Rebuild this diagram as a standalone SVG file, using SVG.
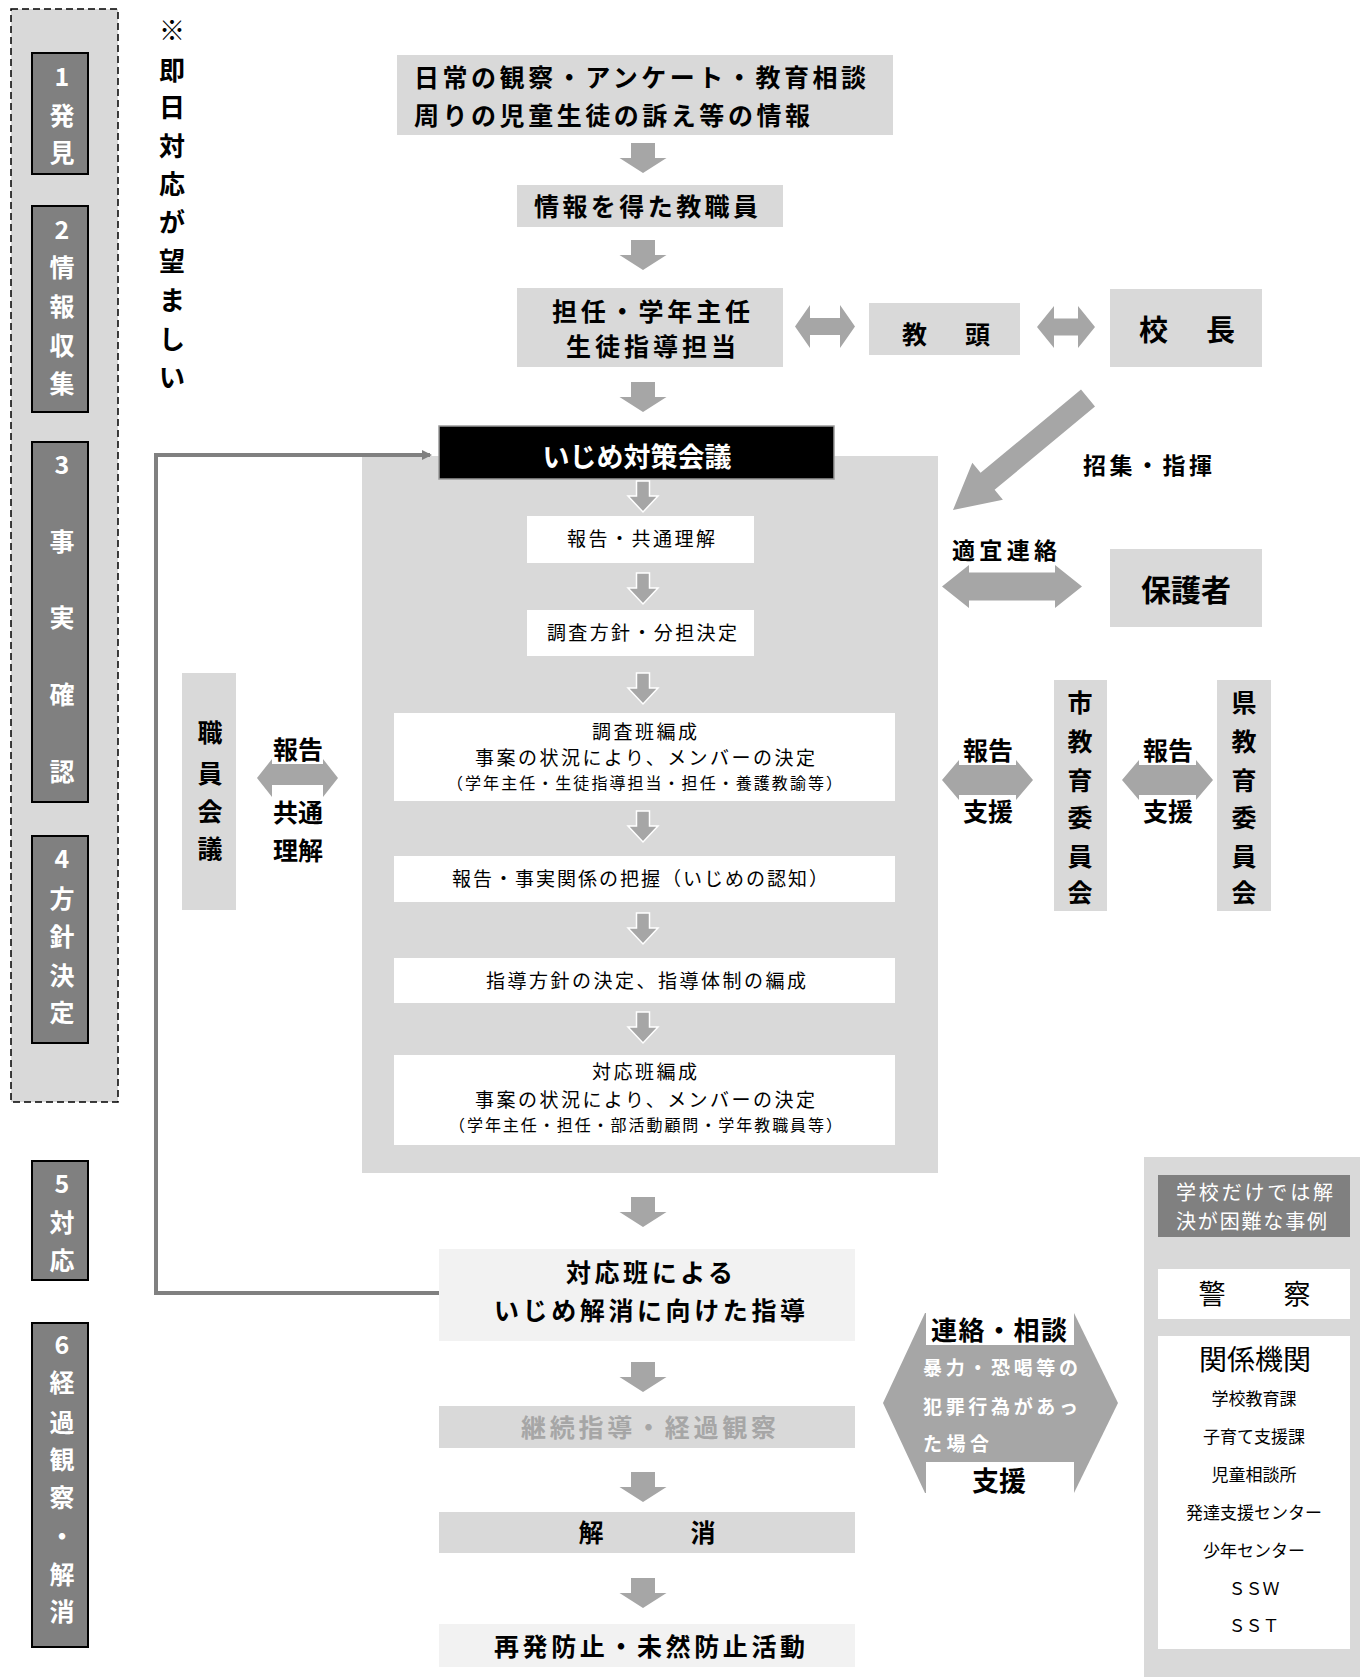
<svg xmlns="http://www.w3.org/2000/svg" xmlns:xlink="http://www.w3.org/1999/xlink" width="1367" height="1677" viewBox="0 0 1367 1677">
<style>
.t{font-family:"Noto Sans CJK JP","Noto Sans",sans-serif;dominant-baseline:central}
.b{font-weight:bold}
.c{text-anchor:middle}
.g{fill:#d9d9d9}
.lg{fill:#f2f2f2}
.w{fill:#ffffff}
.stage{fill:#808080;stroke:#000;stroke-width:2}
.st{fill:#fff;font-size:25px;font-weight:bold}
.arr{fill:#a6a6a6}
.iarr{fill:#a6a6a6;stroke:#fff;stroke-width:1.5}
.m{font-size:25px}
.s{font-size:19px}
.xs{font-size:16px}
</style>
<defs>
<path id="darr" d="M-12,0 H12 V15 H23.5 L0,30 L-23.5,15 H-12 Z"/>
<path id="iarr" d="M-6.5,0 H6.5 V15 H15 L0,31 L-15,15 H-6.5 Z"/>
<marker id="ah" markerWidth="10" markerHeight="10" refX="8" refY="5" orient="auto" markerUnits="userSpaceOnUse">
<path d="M0,0 L10,5 L0,10 Z" fill="#808080"/>
</marker>
</defs>
<rect width="1367" height="1677" fill="#fff"/>

<!-- left stage panel -->
<g id="stages">
<rect x="11" y="9" width="107" height="1093" class="g" stroke="#000" stroke-width="1.5" stroke-dasharray="7,4"/>
<g id="stage1"><rect x="32" y="53" width="56" height="121" class="stage"/>
<text class="t st c" x="62" y="75">1</text><text class="t st c" x="62" y="114">発</text><text class="t st c" x="62" y="151">見</text></g>
<g id="stage2"><rect x="32" y="206" width="56" height="206" class="stage"/>
<text class="t st c" x="62" y="228">2</text><text class="t st c" x="62" y="266">情</text><text class="t st c" x="62" y="305">報</text><text class="t st c" x="62" y="344">収</text><text class="t st c" x="62" y="382">集</text></g>
<g id="stage3"><rect x="32" y="442" width="56" height="360" class="stage"/>
<text class="t st c" x="62" y="463">3</text><text class="t st c" x="62" y="540">事</text><text class="t st c" x="62" y="616">実</text><text class="t st c" x="62" y="693">確</text><text class="t st c" x="62" y="770">認</text></g>
<g id="stage4"><rect x="32" y="836" width="56" height="207" class="stage"/>
<text class="t st c" x="62" y="857">4</text><text class="t st c" x="62" y="897">方</text><text class="t st c" x="62" y="935">針</text><text class="t st c" x="62" y="974">決</text><text class="t st c" x="62" y="1011">定</text></g>
<g id="stage5"><rect x="32" y="1161" width="56" height="119" class="stage"/>
<text class="t st c" x="62" y="1182">5</text><text class="t st c" x="62" y="1221">対</text><text class="t st c" x="62" y="1259">応</text></g>
<g id="stage6"><rect x="32" y="1323" width="56" height="324" class="stage"/>
<text class="t st c" x="62" y="1343">6</text><text class="t st c" x="62" y="1381">経</text><text class="t st c" x="62" y="1421">過</text><text class="t st c" x="62" y="1458">観</text><text class="t st c" x="62" y="1496">察</text><text class="t st c" x="62" y="1535">・</text><text class="t st c" x="62" y="1573">解</text><text class="t st c" x="62" y="1610">消</text></g>
</g>

<g id="note" class="t b c" font-size="26" fill="#000">
<text x="172" y="28">※</text><text x="172" y="68">即</text><text x="172" y="105">日</text><text x="172" y="144">対</text><text x="172" y="182">応</text><text x="172" y="220">が</text><text x="172" y="259">望</text><text x="172" y="298">ま</text><text x="172" y="337">し</text><text x="172" y="375">い</text>
</g>

<!-- main panel background -->
<rect id="panel" x="362" y="456" width="576" height="717" class="g"/>

<g id="connectors">
<use href="#darr" x="643" y="143" class="arr"/>
<use href="#darr" x="643" y="240" class="arr"/>
<use href="#darr" x="643" y="382" class="arr"/>
<use href="#darr" x="643" y="1197" class="arr"/>
<use href="#darr" x="643" y="1362" class="arr"/>
<use href="#darr" x="643" y="1472" class="arr"/>
<use href="#darr" x="643" y="1578" class="arr"/>
<use href="#iarr" x="643" y="481" class="iarr"/>
<use href="#iarr" x="643" y="573" class="iarr"/>
<use href="#iarr" x="643" y="673" class="iarr"/>
<use href="#iarr" x="643" y="811" class="iarr"/>
<use href="#iarr" x="643" y="913" class="iarr"/>
<use href="#iarr" x="643" y="1012" class="iarr"/>
<path class="arr" d="M795,326.5 L810,305 V318 H840 V305 L855,326.5 L840,348 V335 H810 V348 Z"/>
<path class="arr" d="M1037,327 L1054,306 V318.5 H1078 V306 L1095,327 L1078,348 V335.5 H1054 V348 Z"/>
<polygon class="arr" points="1081,389.5 980.6,472.8 972.3,462.8 953,510 1002.9,499.8 994.6,489.8 1095,406.5"/>
<path class="arr" d="M942,586.5 L969,565 V572.5 H1055 V565 L1082,586.5 L1055,608 V600.5 H969 V608 Z"/>
<path class="arr" d="M257,778 L272,759 V763 H323 V759 L338,778 L323,797 V793 H272 V797 Z"/>
<path class="arr" d="M942,780 L959,760 V764 H1016 V760 L1033,780 L1016,800 V796 H959 V800 Z"/>
<path class="arr" d="M1122,780 L1139,760 V764 H1196 V760 L1213,780 L1196,800 V796 H1139 V800 Z"/>
<polygon class="arr" points="883,1403 925,1313 1074,1313 1118,1403 1074,1493 925,1493"/>
<path d="M439,1293 H156 V455 H430" fill="none" stroke="#808080" stroke-width="4" marker-end="url(#ah)"/>
</g>

<!-- connector labels -->
<g id="labels" class="t b" fill="#000">
<text x="1083" y="464" font-size="23" textLength="129" lengthAdjust="spacing">招集・指揮</text>
<text x="952" y="549" font-size="23" textLength="105" lengthAdjust="spacing">適宜連絡</text>
<rect x="272" y="733" width="51" height="31" class="w"/>
<text class="c" x="298" y="748" font-size="25">報告</text>
<rect x="272" y="785" width="51" height="42" class="w"/>
<text class="c" x="298" y="811" font-size="25">共通</text>
<text class="c" x="298" y="849" font-size="25">理解</text>
<rect x="959" y="734" width="57" height="31" class="w"/>
<text class="c" x="988" y="749" font-size="25">報告</text>
<rect x="959" y="795" width="57" height="32" class="w"/>
<text class="c" x="988" y="810" font-size="25">支援</text>
<rect x="1139" y="734" width="57" height="31" class="w"/>
<text class="c" x="1168" y="749" font-size="25">報告</text>
<rect x="1139" y="795" width="57" height="32" class="w"/>
<text class="c" x="1168" y="810" font-size="25">支援</text>
<rect x="926" y="1313" width="148" height="32" class="w"/>
<text x="931" y="1328" font-size="26" textLength="136" lengthAdjust="spacing">連絡・相談</text>
<text x="923" y="1366" font-size="19" fill="#fff" textLength="155" lengthAdjust="spacing">暴力・恐喝等の</text>
<text x="923" y="1405" font-size="19" fill="#fff" textLength="155" lengthAdjust="spacing">犯罪行為があっ</text>
<text x="923" y="1442" font-size="19" fill="#fff" textLength="66" lengthAdjust="spacing">た場合</text>
<rect x="926" y="1462" width="148" height="31" class="w"/>
<text class="c" x="999" y="1479" font-size="27">支援</text>
</g>

<g id="node-top"><rect x="397" y="55" width="496" height="80" class="g"/>
<text class="t b m" x="414" y="76" textLength="452" lengthAdjust="spacing">日常の観察・アンケート・教育相談</text>
<text class="t b m" x="414" y="114" textLength="396" lengthAdjust="spacing">周りの児童生徒の訴え等の情報</text></g>

<g id="node-staff"><rect x="517" y="185" width="266" height="42" class="g"/>
<text class="t b m" x="534" y="205" textLength="224" lengthAdjust="spacing">情報を得た教職員</text></g>

<g id="node-tannin"><rect x="517" y="288" width="266" height="79" class="g"/>
<text class="t b m" x="552" y="310" textLength="198" lengthAdjust="spacing">担任・学年主任</text>
<text class="t b m" x="566" y="345" textLength="170" lengthAdjust="spacing">生徒指導担当</text></g>

<g id="node-kyoto"><rect x="869" y="303" width="151" height="52" class="g"/>
<text class="t b m" x="902" y="333" textLength="88" lengthAdjust="spacing">教　頭</text></g>

<g id="node-kocho"><rect x="1110" y="289" width="152" height="78" class="g"/>
<text class="t b" font-size="29" x="1139" y="328" textLength="96" lengthAdjust="spacing">校　長</text></g>

<g id="node-hogosha"><rect x="1110" y="549" width="152" height="78" class="g"/>
<text class="t b c" font-size="30" x="1186" y="588">保護者</text></g>

<g id="node-kaigi"><rect x="439" y="426" width="395" height="53" fill="#000" stroke="#9a9a9a" stroke-width="1.5"/>
<text class="t b c" font-size="27" x="637" y="455" fill="#fff">いじめ対策会議</text></g>

<g id="node-n1"><rect x="527" y="516" width="227" height="47" class="w"/>
<text class="t s" x="567" y="537" textLength="148" lengthAdjust="spacing">報告・共通理解</text></g>
<g id="node-n2"><rect x="527" y="610" width="227" height="46" class="w"/>
<text class="t s" x="547" y="631" textLength="190" lengthAdjust="spacing">調査方針・分担決定</text></g>
<g id="node-n3"><rect x="394" y="713" width="501" height="88" class="w"/>
<text class="t s" x="592" y="730" textLength="105" lengthAdjust="spacing">調査班編成</text>
<text class="t s" x="475" y="756" textLength="340" lengthAdjust="spacing">事案の状況により、メンバーの決定</text>
<text class="t xs" x="447" y="782" textLength="395" lengthAdjust="spacing">（学年主任・生徒指導担当・担任・養護教諭等）</text></g>
<g id="node-n4"><rect x="394" y="856" width="501" height="46" class="w"/>
<text class="t s" x="452" y="877" textLength="376" lengthAdjust="spacing">報告・事実関係の把握（いじめの認知）</text></g>
<g id="node-n5"><rect x="394" y="958" width="501" height="45" class="w"/>
<text class="t s" x="486" y="979" textLength="320" lengthAdjust="spacing">指導方針の決定、指導体制の編成</text></g>
<g id="node-n6"><rect x="394" y="1055" width="501" height="90" class="w"/>
<text class="t s" x="592" y="1070" textLength="105" lengthAdjust="spacing">対応班編成</text>
<text class="t s" x="475" y="1098" textLength="340" lengthAdjust="spacing">事案の状況により、メンバーの決定</text>
<text class="t xs" x="449" y="1124" textLength="393" lengthAdjust="spacing">（学年主任・担任・部活動顧問・学年教職員等）</text></g>

<g id="node-shokuin"><rect x="182" y="673" width="54" height="237" class="g"/>
<g class="t b c" font-size="25"><text x="210" y="731">職</text><text x="210" y="772">員</text><text x="210" y="810">会</text><text x="210" y="847">議</text></g></g>

<g id="node-shi"><rect x="1054" y="680" width="53" height="231" class="g"/>
<g class="t b c" font-size="25"><text x="1080" y="701">市</text><text x="1080" y="740">教</text><text x="1080" y="779">育</text><text x="1080" y="816">委</text><text x="1080" y="855">員</text><text x="1080" y="891">会</text></g></g>
<g id="node-ken"><rect x="1217" y="680" width="54" height="231" class="g"/>
<g class="t b c" font-size="25"><text x="1244" y="701">県</text><text x="1244" y="740">教</text><text x="1244" y="779">育</text><text x="1244" y="816">委</text><text x="1244" y="855">員</text><text x="1244" y="891">会</text></g></g>

<g id="node-taio"><rect x="439" y="1249" width="416" height="92" class="lg"/>
<text class="t b m" x="566" y="1271" textLength="167" lengthAdjust="spacing">対応班による</text>
<text class="t b m" x="494" y="1309" textLength="311" lengthAdjust="spacing">いじめ解消に向けた指導</text></g>
<g id="node-keizoku"><rect x="439" y="1406" width="416" height="42" class="g"/>
<text class="t b m" x="521" y="1426" fill="#a6a6a6" textLength="255" lengthAdjust="spacing">継続指導・経過観察</text></g>
<g id="node-kaisho"><rect x="439" y="1512" width="416" height="41" class="g"/>
<text class="t b m c" x="591" y="1531">解</text><text class="t b m c" x="703" y="1531">消</text></g>
<g id="node-saihatsu"><rect x="439" y="1624" width="416" height="43" class="lg"/>
<text class="t b m" x="494" y="1645" textLength="311" lengthAdjust="spacing">再発防止・未然防止活動</text></g>

<g id="node-outside"><rect x="1144" y="1157" width="216" height="520" class="g"/>
<rect x="1158" y="1175" width="192" height="62" fill="#808080"/>
<text class="t" font-size="20" x="1176" y="1191" fill="#fff" textLength="157" lengthAdjust="spacing">学校だけでは解</text>
<text class="t" font-size="20" x="1176" y="1220" fill="#fff" textLength="151" lengthAdjust="spacing">決が困難な事例</text>
<rect x="1158" y="1269" width="192" height="50" class="w"/>
<text class="t c" font-size="27" x="1212" y="1292">警</text><text class="t c" font-size="27" x="1297" y="1292">察</text>
<rect x="1158" y="1336" width="192" height="313" class="w"/>
<text class="t c" font-size="28" x="1255" y="1358">関係機関</text>
<g class="t c" font-size="17"><text x="1254" y="1397">学校教育課</text><text x="1254" y="1435">子育て支援課</text><text x="1254" y="1473">児童相談所</text><text x="1254" y="1511">発達支援センター</text><text x="1254" y="1549">少年センター</text><text x="1254" y="1587">ＳＳＷ</text><text x="1254" y="1624">ＳＳＴ</text></g>
</g>
</svg>
